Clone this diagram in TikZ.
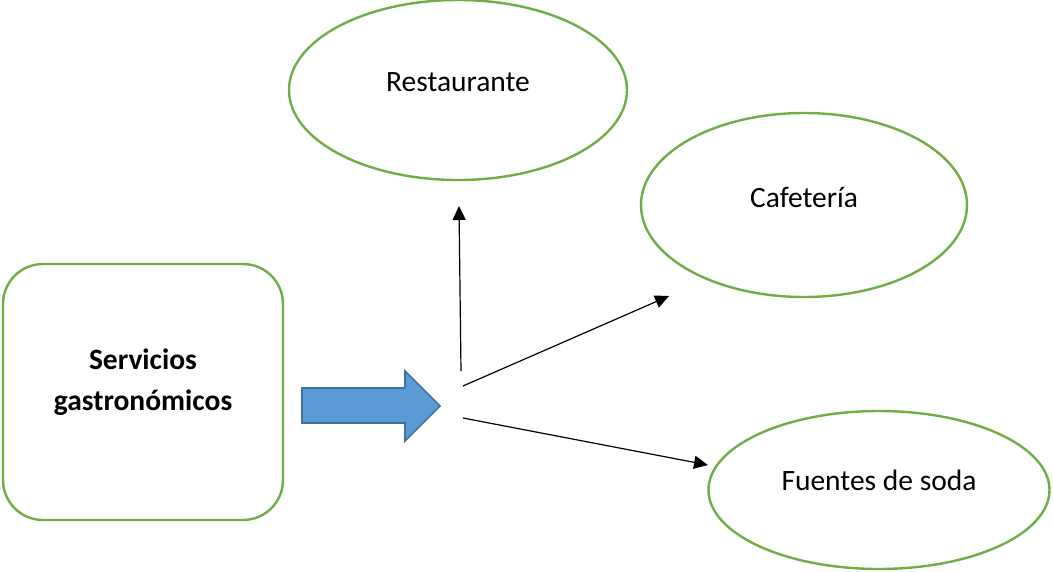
\documentclass[tikz,border=0pt]{standalone}
\usepackage{fontspec}
\setmainfont{Carlito}
\usetikzlibrary{shapes.geometric, arrows.meta}
\definecolor{hojaverde}{HTML}{70AD47}
\definecolor{azulflecha}{HTML}{5B9BD5}
\definecolor{azulborde}{HTML}{41719C}

\begin{document}
\begin{tikzpicture}[x=1pt, y=-1pt, >={Triangle[length=14pt,width=13pt]},
  servicio/.style={ellipse, draw=hojaverde, line width=2.4pt, inner sep=0pt},
  conector/.style={->, line width=1.2pt}]
  \useasboundingbox (0,0) rectangle (1053,571);
  \fontsize{29.5}{41}\selectfont
  % main box
  \node[draw=hojaverde, line width=2.4pt, rounded corners=40pt,
        minimum width=280pt, minimum height=256pt,
        label={[yshift=10pt, align=center, font=\bfseries]center:Servicios\\gastronómicos}]
        (gastro) at (143,392) {};
  % block arrow
  \draw[fill=azulflecha, draw=azulborde, line width=1.6pt]
       (302,388) -- (405,388) -- (405,371) -- (440,406) -- (405,441)
       -- (405,423) -- (302,423) -- cycle;
  % the three kinds
  \node[servicio, minimum width=338pt, minimum height=180pt,
        label={[yshift=8pt]center:Restaurante}] (rest) at (458,90) {};
  \node[servicio, minimum width=326pt, minimum height=184pt,
        label={[yshift=8pt]center:Cafetería}] (cafe) at (804,205) {};
  \node[servicio, minimum width=341pt, minimum height=158pt,
        label={[yshift=10pt]center:Fuentes de soda}] (soda) at (879,490) {};
  % branching arrows
  \coordinate (p1) at (461,371);
  \coordinate (p2) at (463,386);
  \coordinate (p3) at (463,418);
  \coordinate (q1) at (459,206);
  \coordinate (q2) at (669,296);
  \coordinate (q3) at (708,465);
  \draw[conector] (p1) -- (q1);
  \draw[conector] (p2) -- (q2);
  \draw[conector] (p3) -- (q3);
\end{tikzpicture}
\end{document}
